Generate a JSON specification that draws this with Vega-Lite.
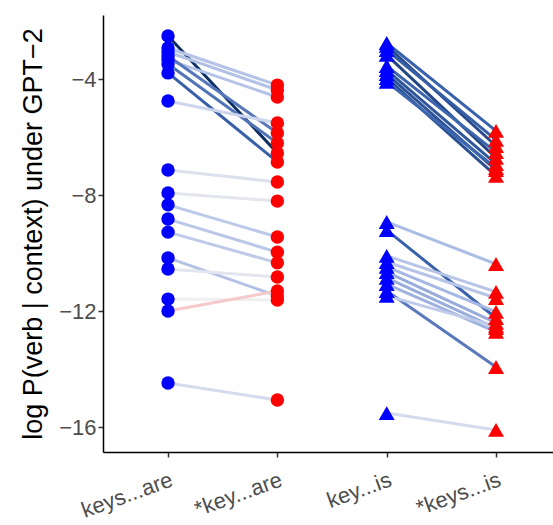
{
  "$schema": "https://vega.github.io/schema/vega-lite/v6.json",
  "width": 450,
  "height": 437,
  "autosize": {"type": "none"},
  "padding": {"left": 103, "top": 15, "right": 0, "bottom": 73},
  "background": "white",
  "config": {
    "view": {"stroke": null},
    "axis": {
      "grid": false,
      "domainColor": "black",
      "domainWidth": 1.5,
      "tickColor": "#333333",
      "tickWidth": 1.5,
      "tickSize": 5,
      "labelColor": "#4d4d4d",
      "labelFont": "Liberation Sans",
      "titleFont": "Liberation Sans",
      "titleFontWeight": "normal",
      "titleColor": "black"
    }
  },
  "datasets": {
    "pairs": [
      {"grp": "are", "c1": "keys...are", "c2": "*key...are", "v1": -2.52, "v2": -6.55, "d": -4.03},
      {"grp": "are", "c1": "keys...are", "c2": "*key...are", "v1": -2.93, "v2": -4.21, "d": -1.28},
      {"grp": "are", "c1": "keys...are", "c2": "*key...are", "v1": -3.07, "v2": -4.38, "d": -1.31},
      {"grp": "are", "c1": "keys...are", "c2": "*key...are", "v1": -3.34, "v2": -4.62, "d": -1.28},
      {"grp": "are", "c1": "keys...are", "c2": "*key...are", "v1": -3.21, "v2": -5.86, "d": -2.65},
      {"grp": "are", "c1": "keys...are", "c2": "*key...are", "v1": -3.48, "v2": -6.21, "d": -2.73},
      {"grp": "are", "c1": "keys...are", "c2": "*key...are", "v1": -3.79, "v2": -6.86, "d": -3.07},
      {"grp": "are", "c1": "keys...are", "c2": "*key...are", "v1": -4.76, "v2": -5.52, "d": -0.76},
      {"grp": "are", "c1": "keys...are", "c2": "*key...are", "v1": -7.14, "v2": -7.55, "d": -0.41},
      {"grp": "are", "c1": "keys...are", "c2": "*key...are", "v1": -7.93, "v2": -8.21, "d": -0.28},
      {"grp": "are", "c1": "keys...are", "c2": "*key...are", "v1": -8.34, "v2": -9.45, "d": -1.11},
      {"grp": "are", "c1": "keys...are", "c2": "*key...are", "v1": -8.83, "v2": -9.97, "d": -1.14},
      {"grp": "are", "c1": "keys...are", "c2": "*key...are", "v1": -9.28, "v2": -10.34, "d": -1.06},
      {"grp": "are", "c1": "keys...are", "c2": "*key...are", "v1": -10.17, "v2": -11.48, "d": -1.31},
      {"grp": "are", "c1": "keys...are", "c2": "*key...are", "v1": -10.55, "v2": -10.83, "d": -0.28},
      {"grp": "are", "c1": "keys...are", "c2": "*key...are", "v1": -11.59, "v2": -11.62, "d": -0.03},
      {"grp": "are", "c1": "keys...are", "c2": "*key...are", "v1": -12.0, "v2": -11.31, "d": 0.69},
      {"grp": "are", "c1": "keys...are", "c2": "*key...are", "v1": -14.48, "v2": -15.07, "d": -0.59},
      {"grp": "is", "c1": "key...is", "c2": "*keys...is", "v1": -2.76, "v2": -5.79, "d": -3.03},
      {"grp": "is", "c1": "key...is", "c2": "*keys...is", "v1": -2.86, "v2": -6.31, "d": -3.45},
      {"grp": "is", "c1": "key...is", "c2": "*keys...is", "v1": -3.0, "v2": -6.1, "d": -3.1},
      {"grp": "is", "c1": "key...is", "c2": "*keys...is", "v1": -3.17, "v2": -6.72, "d": -3.55},
      {"grp": "is", "c1": "key...is", "c2": "*keys...is", "v1": -3.55, "v2": -6.52, "d": -2.97},
      {"grp": "is", "c1": "key...is", "c2": "*keys...is", "v1": -3.69, "v2": -6.93, "d": -3.24},
      {"grp": "is", "c1": "key...is", "c2": "*keys...is", "v1": -3.83, "v2": -7.14, "d": -3.31},
      {"grp": "is", "c1": "key...is", "c2": "*keys...is", "v1": -3.97, "v2": -7.34, "d": -3.37},
      {"grp": "is", "c1": "key...is", "c2": "*keys...is", "v1": -4.1, "v2": -7.07, "d": -2.97},
      {"grp": "is", "c1": "key...is", "c2": "*keys...is", "v1": -8.93, "v2": -10.38, "d": -1.45},
      {"grp": "is", "c1": "key...is", "c2": "*keys...is", "v1": -9.21, "v2": -12.24, "d": -3.03},
      {"grp": "is", "c1": "key...is", "c2": "*keys...is", "v1": -10.1, "v2": -11.34, "d": -1.24},
      {"grp": "is", "c1": "key...is", "c2": "*keys...is", "v1": -10.31, "v2": -11.55, "d": -1.24},
      {"grp": "is", "c1": "key...is", "c2": "*keys...is", "v1": -10.48, "v2": -12.03, "d": -1.55},
      {"grp": "is", "c1": "key...is", "c2": "*keys...is", "v1": -10.66, "v2": -12.41, "d": -1.75},
      {"grp": "is", "c1": "key...is", "c2": "*keys...is", "v1": -10.86, "v2": -12.59, "d": -1.73},
      {"grp": "is", "c1": "key...is", "c2": "*keys...is", "v1": -11.07, "v2": -12.72, "d": -1.65},
      {"grp": "is", "c1": "key...is", "c2": "*keys...is", "v1": -11.31, "v2": -13.93, "d": -2.62},
      {"grp": "is", "c1": "key...is", "c2": "*keys...is", "v1": -11.48, "v2": -12.52, "d": -1.04},
      {"grp": "is", "c1": "key...is", "c2": "*keys...is", "v1": -15.52, "v2": -16.1, "d": -0.58}
    ]
  },
  "data": {"name": "pairs"},
  "encoding": {
    "x": {
      "field": "c1",
      "type": "nominal",
      "scale": {"type": "point", "domain": ["keys...are", "*key...are", "key...is", "*keys...is"], "padding": 0.558, "align": 0.533},
      "axis": {"title": null, "labelAngle": -20, "labelAlign": "right", "labelBaseline": "top", "labelFontSize": 22, "labelPadding": 12, "domainColor": "black"}
    },
    "y": {
      "field": "v1",
      "type": "quantitative",
      "scale": {"domain": [-16.862, -1.793], "nice": false, "zero": false},
      "axis": {"title": "log P(verb | context) under GPT−2", "values": [-16, -12, -8, -4], "labelFontSize": 22, "titleFontSize": 27, "titlePadding": 11}
    }
  },
  "layer": [
    {
      "mark": {"type": "rule", "strokeWidth": 3},
      "encoding": {
        "x2": {"field": "c2"},
        "y2": {"field": "v2"},
        "color": {
          "field": "d",
          "type": "quantitative",
          "scale": {"domain": [-4.1, -3.0, -1.5, 0, 0.7], "range": ["#082a5e", "#3a64ae", "#a9bbe5", "#f0f0f0", "#f5c8c8"]},
          "legend": null
        }
      }
    },
    {
      "mark": {"type": "point", "filled": true, "opacity": 1, "strokeWidth": 0},
      "encoding": {
        "shape": {"field": "grp", "type": "nominal", "scale": {"domain": ["are", "is"], "range": ["circle", "triangle-up"]}, "legend": null},
        "size": {"field": "grp", "type": "nominal", "scale": {"domain": ["are", "is"], "range": [180, 256]}, "legend": null},
        "color": {"value": "#0000ff"}
      }
    },
    {
      "mark": {"type": "point", "filled": true, "opacity": 1, "strokeWidth": 0},
      "encoding": {
        "x": {"field": "c2", "type": "nominal"},
        "y": {"field": "v2", "type": "quantitative"},
        "shape": {"field": "grp", "type": "nominal", "legend": null},
        "size": {"field": "grp", "type": "nominal", "legend": null},
        "color": {"value": "#ff0000"}
      }
    }
  ]
}
